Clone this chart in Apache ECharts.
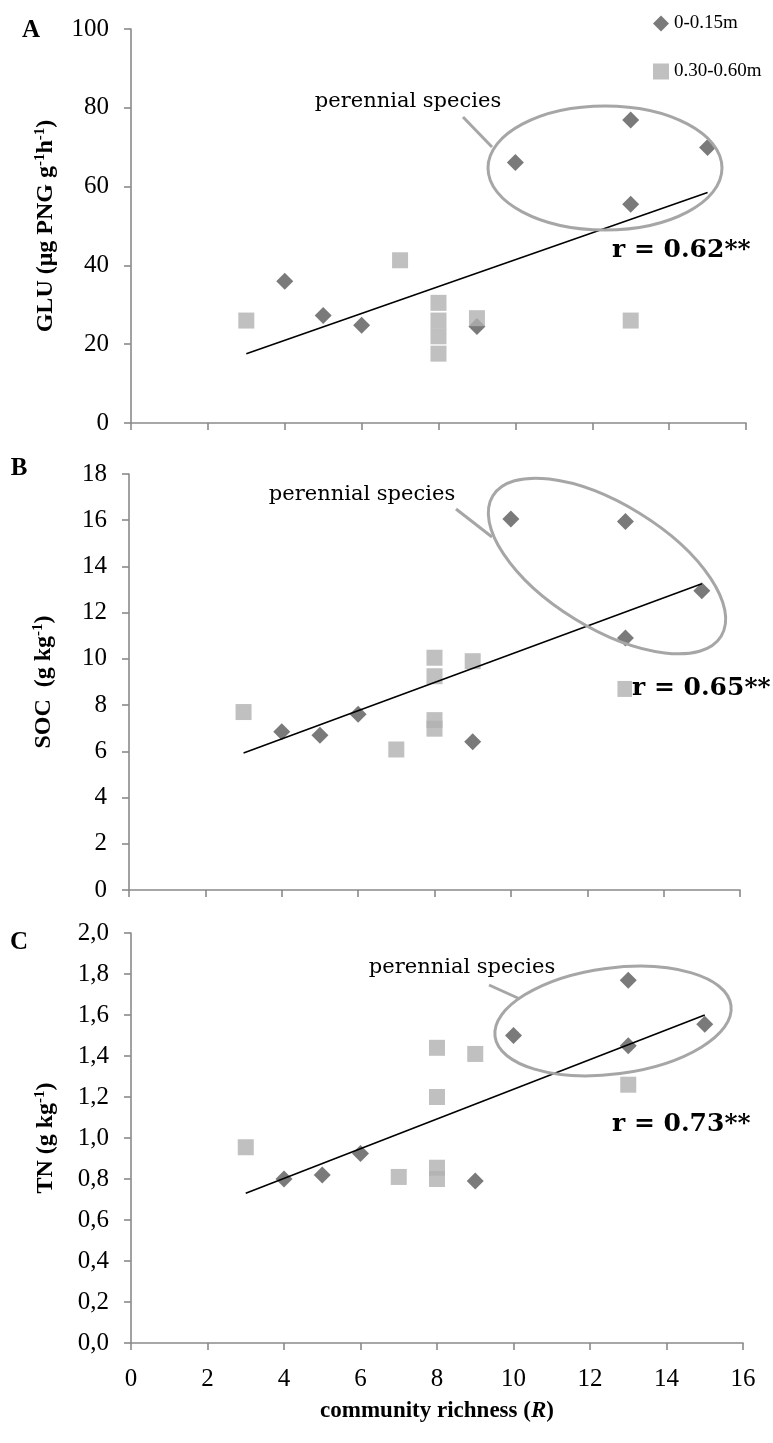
<!DOCTYPE html>
<html>
<head>
<meta charset="utf-8">
<script src="https://cdn.jsdelivr.net/npm/echarts@6/dist/echarts.min.js"></script>
<style>
  html, body { margin: 0; padding: 0; background: #ffffff; }
  #chart { width: 773px; height: 1443px; }
</style>
</head>
<body>
<div id="chart"></div>
<script>
// Community richness (x) for the two sampling depths
const richnessShallow = [4, 5, 6, 9, 10, 13, 13, 15];
const richnessDeep    = [3, 7, 8, 8, 8, 8, 9, 13];

// A: glucosidase activity
const gluShallow = [36.0, 27.3, 24.8, 24.5, 66.1, 76.9, 55.5, 69.9];
const gluDeep    = [26.0, 41.3, 30.5, 26.0, 22.0, 17.6, 26.6, 26.0];
// B: soil organic carbon
const socShallow = [6.85, 6.7, 7.6, 6.42, 16.05, 15.95, 10.9, 12.95];
const socDeep    = [7.7, 6.08, 10.05, 9.25, 7.35, 6.98, 9.9, 8.7];
// C: total nitrogen
const tnShallow  = [0.80, 0.82, 0.925, 0.79, 1.50, 1.77, 1.45, 1.555];
const tnDeep     = [0.955, 0.81, 1.44, 1.20, 0.855, 0.80, 1.41, 1.26];

// Fitted regression lines (both ends)
const trendX   = [3, 15];
const gluTrend = [17.6, 58.5];
const socTrend = [5.93, 13.25];
const tnTrend  = [0.73, 1.60];

// Axis ranges and ticks
const gluAxis = { min: 0, max: 100, interval: 20 };
const socAxis = { min: 0, max: 18, interval: 2 };
const tnAxis  = { min: 0, max: 2, interval: 0.2 };
const richAxis = { min: 0, max: 16, interval: 2 };

const legendNames = ['0-0.15m', '0.30-0.60m'];
const rLabels = ['r = 0.62**', 'r = 0.65**', 'r = 0.73**'];
const panelLetters = ['A', 'B', 'C'];
const groupLabel = 'perennial species';

const SERIF = '"Liberation Serif", "DejaVu Serif", serif';
const WIDE_SERIF = '"DejaVu Serif", "Liberation Serif", serif';
const AXIS_GREY = '#8a8a8a';
const RING_GREY = '#a6a6a6';
const DIAMOND = '#595959';
const SQUARE = '#b0b0b0';

const zip = (xs, ys) => xs.map((x, i) => [x, ys[i]]);

const grids = [
  { left: 131, top: 29, width: 615, height: 394 },
  { left: 129, top: 474, width: 611, height: 416 },
  { left: 131, top: 933, width: 612, height: 410 }
];

function xAxisFor(i, showLabels) {
  return {
    type: 'value', gridIndex: i,
    min: richAxis.min, max: richAxis.max, interval: richAxis.interval,
    axisLine: { show: true, onZero: false, lineStyle: { color: AXIS_GREY, width: 1.6 } },
    axisTick: { show: true, length: 7, lineStyle: { color: AXIS_GREY, width: 1.6 } },
    splitLine: { show: false },
    axisLabel: { show: showLabels, margin: 24, color: '#000', fontFamily: SERIF, fontSize: 25 },
    name: showLabels ? 'community richness ({i|R})' : '',
    nameLocation: 'middle', nameGap: 57,
    nameTextStyle: {
      color: '#000', fontFamily: SERIF, fontWeight: 'bold', fontSize: 23,
      rich: { i: { fontFamily: SERIF, fontWeight: 'bold', fontStyle: 'italic', fontSize: 23, color: '#000' } }
    }
  };
}

const supRich = {
  s: { fontFamily: SERIF, fontWeight: 'bold', fontSize: 15, color: '#000', verticalAlign: 'top', lineHeight: 25 }
};

function yAxisFor(i, range, name, fmt) {
  return {
    type: 'value', gridIndex: i,
    min: range.min, max: range.max, interval: range.interval,
    axisLine: { show: true, lineStyle: { color: AXIS_GREY, width: 1.6 } },
    axisTick: { show: true, length: 7, lineStyle: { color: AXIS_GREY, width: 1.6 } },
    splitLine: { show: false },
    axisLabel: { margin: 22, color: '#000', fontFamily: SERIF, fontSize: 25, formatter: fmt },
    name: name, nameLocation: 'middle', nameRotate: 90, nameGap: 73,
    nameTextStyle: {
      color: '#000', fontFamily: SERIF, fontWeight: 'bold', fontSize: 24, lineHeight: 25,
      rich: Object.assign({ n: { fontFamily: SERIF, fontWeight: 'bold', fontSize: 24, color: '#000', lineHeight: 25 } }, supRich)
    }
  };
}

function panelSeries(i, shallow, deep, trend) {
  return [
    { type: 'scatter', name: legendNames[0], xAxisIndex: i, yAxisIndex: i,
      symbol: 'diamond', symbolSize: 17, itemStyle: { color: DIAMOND },
      data: zip(richnessShallow, shallow) },
    { type: 'scatter', name: legendNames[1], xAxisIndex: i, yAxisIndex: i,
      symbol: 'rect', symbolSize: 16, itemStyle: { color: SQUARE },
      data: zip(richnessDeep, deep) },
    { type: 'line', name: 'fit', xAxisIndex: i, yAxisIndex: i,
      symbol: 'none', silent: true,
      lineStyle: { color: '#000', width: 1.6 },
      data: zip(trendX, trend) }
  ];
}

// Rings around the perennial species, with their callout text (text placed by its centre)
const rings = [
  { x: 605, y: 168, rx: 117, ry: 62, rot: 0 },
  { x: 607, y: 566, rx: 134, ry: 62, rot: -31.6 },
  { x: 613, y: 1021, rx: 119, ry: 53, rot: 7.5 }
];
const callouts = [
  { text: [408, 102], line: [463, 117, 492, 147] },
  { text: [362, 495], line: [456, 509, 492, 537] },
  { text: [462, 968], line: [489, 985, 520, 999] }
];
const rPos = [[612, 250], [632, 688], [612, 1124]];
const letterPos = [[31, 31], [19, 469], [19, 943]];

const graphic = [];
rings.forEach(r => graphic.push({
  type: 'ellipse', x: r.x, y: r.y, rotation: r.rot * Math.PI / 180, z: 5,
  shape: { cx: 0, cy: 0, rx: r.rx, ry: r.ry },
  style: { fill: 'none', stroke: RING_GREY, lineWidth: 3 }
}));
callouts.forEach(c => {
  graphic.push({ type: 'line', z: 5, shape: { x1: c.line[0], y1: c.line[1], x2: c.line[2], y2: c.line[3] },
    style: { stroke: RING_GREY, lineWidth: 3 } });
  graphic.push({ type: 'text', x: c.text[0], y: c.text[1], z: 6,
    style: { text: groupLabel, font: '21px ' + WIDE_SERIF, fill: '#000', align: 'center', verticalAlign: 'middle' } });
});
rLabels.forEach((t, i) => graphic.push({
  type: 'text', x: rPos[i][0], y: rPos[i][1], z: 6,
  style: { text: t, font: 'bold 25px ' + WIDE_SERIF, fill: '#000', align: 'left', verticalAlign: 'middle',
           backgroundColor: '#fff' }
}));
panelLetters.forEach((t, i) => graphic.push({
  type: 'text', x: letterPos[i][0], y: letterPos[i][1], z: 6,
  style: { text: t, font: 'bold 25px ' + SERIF, fill: '#000', align: 'center', verticalAlign: 'middle' }
}));

const option = {
  backgroundColor: '#ffffff',
  animation: false,
  legend: {
    data: legendNames, orient: 'vertical', left: 648, top: 9,
    itemWidth: 16, itemHeight: 16, itemGap: 29, selectedMode: false,
    textStyle: { fontFamily: SERIF, fontSize: 19, color: '#000' }
  },
  grid: grids,
  xAxis: [xAxisFor(0, false), xAxisFor(1, false), xAxisFor(2, true)],
  yAxis: [
    yAxisFor(0, gluAxis, '{n|GLU (μg PNG g}{s|-1}{n|h}{s|-1}{n|)}', v => String(v)),
    yAxisFor(1, socAxis, '{n|SOC  (g kg}{s|-1}{n|)}', v => String(v)),
    yAxisFor(2, tnAxis, '{n|TN (g kg}{s|-1}{n|)}', v => v.toFixed(1).replace('.', ','))
  ],
  series: [].concat(
    panelSeries(0, gluShallow, gluDeep, gluTrend),
    panelSeries(1, socShallow, socDeep, socTrend),
    panelSeries(2, tnShallow, tnDeep, tnTrend)
  ),
  graphic: graphic
};

const chart = echarts.init(document.getElementById('chart'), null, { renderer: 'canvas' });
chart.setOption(option);
</script>
</body>
</html>
